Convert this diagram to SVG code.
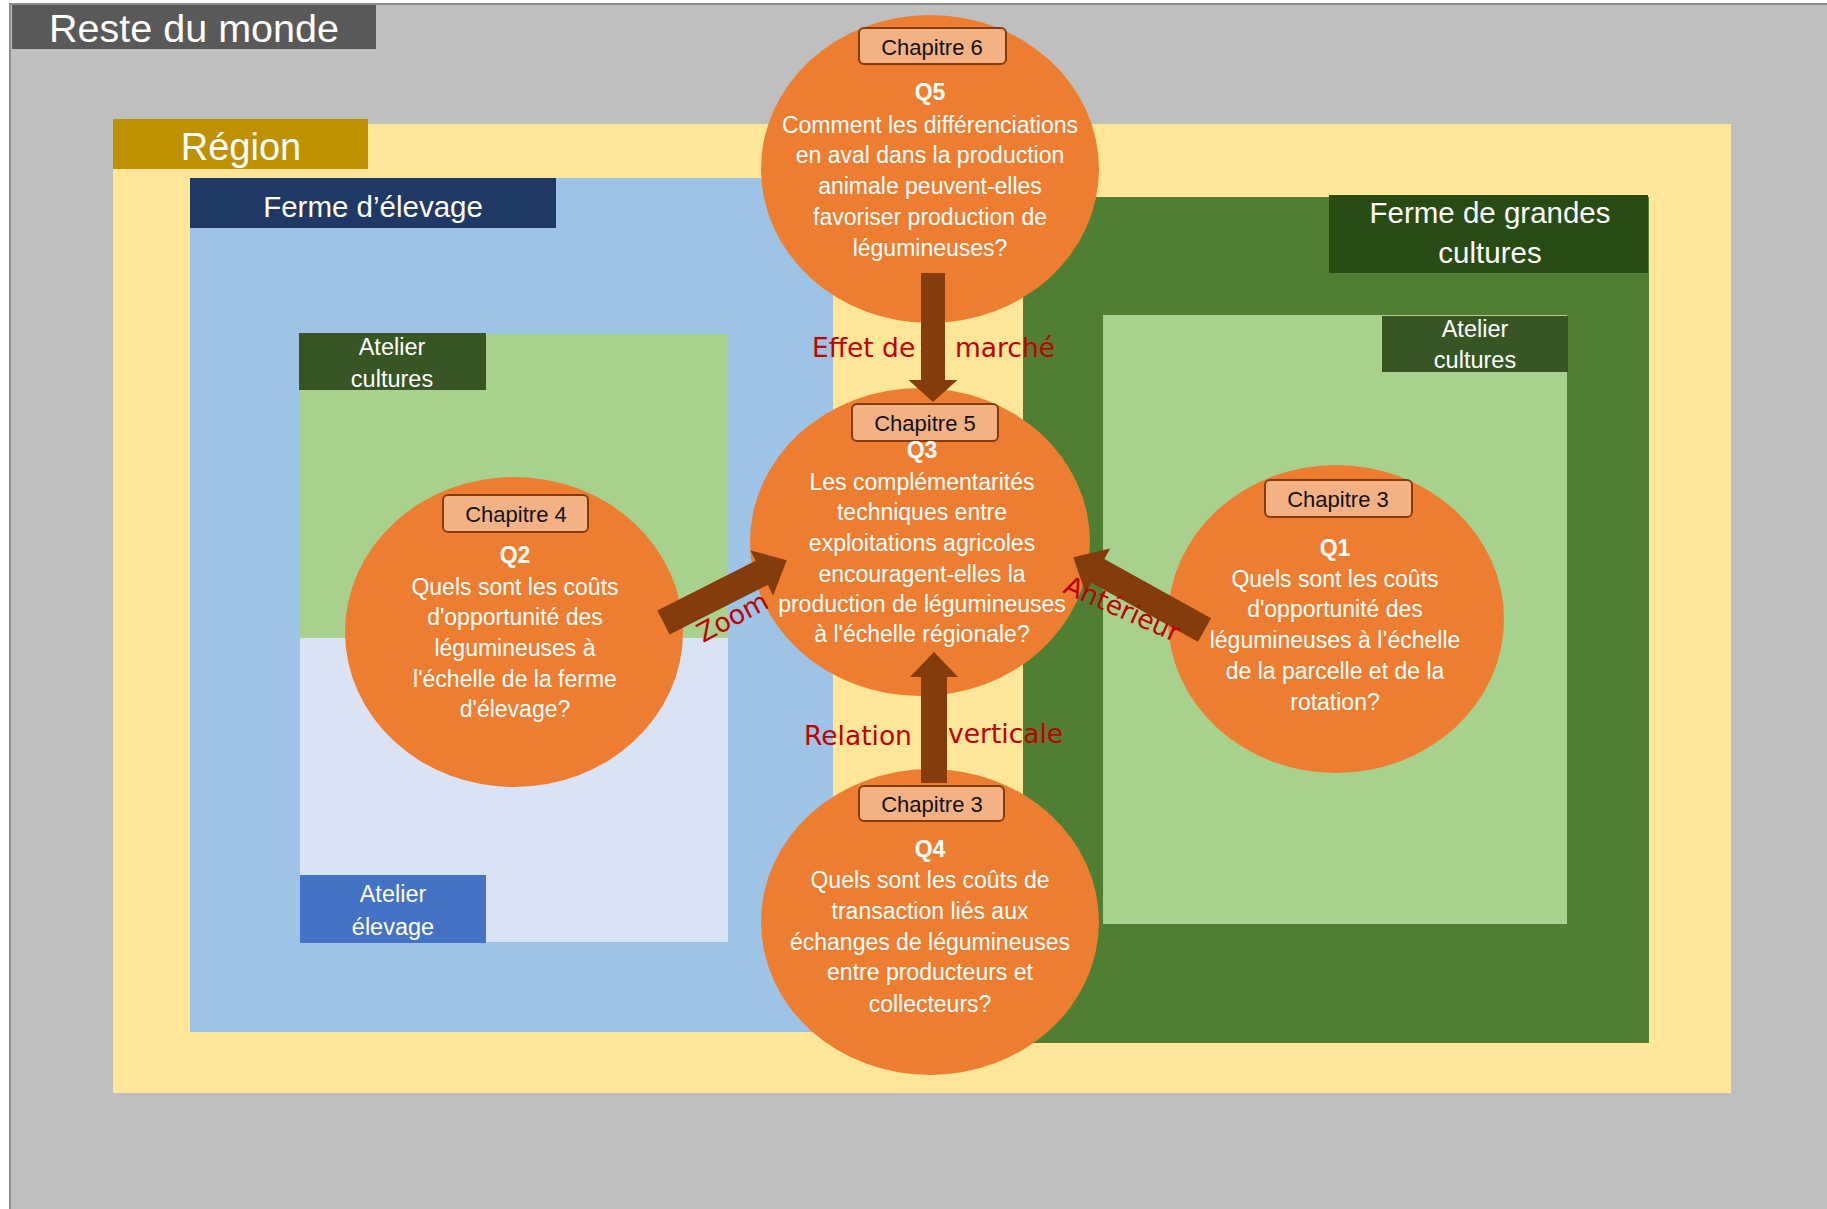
<svg xmlns="http://www.w3.org/2000/svg" width="1827" height="1209" viewBox="0 0 1827 1209">
<style>
.hdr{font-family:"Liberation Sans",Arial,sans-serif;fill:#fff;text-anchor:middle}
.q{font-family:"Liberation Sans",Arial,sans-serif;font-size:23px;fill:#fff;text-anchor:middle}
.qb{font-weight:bold}
.chap{fill:#F4B183;stroke:#843C0C;stroke-width:2}
.chapt{font-family:"Liberation Sans",Arial,sans-serif;font-size:22px;fill:#111;text-anchor:middle}
.circ{fill:#ED7D31}
.arr{fill:#843C0C}
.red{font-family:"DejaVu Sans",Verdana,sans-serif;font-size:26.5px;fill:#C00000}
</style>
<rect x="0" y="0" width="1827" height="1209" fill="#ffffff"/>
<g id="reste-du-monde">
<rect x="10" y="4" width="1830" height="1210" fill="#BFBFBF" stroke="#8C8C8C" stroke-width="2"/>
<rect x="12" y="5" width="364" height="44" fill="#595959"/>
<text class="hdr" x="194" y="42" font-size="39.5">Reste du monde</text>
</g>
<g id="region">
<rect x="113" y="124" width="1618" height="969" fill="#FFE699"/>
<rect x="113" y="119" width="255" height="50" fill="#BF9000"/>
<text class="hdr" x="241" y="160" font-size="38">Région</text>
</g>
<g id="ferme-elevage">
<rect x="190" y="178" width="643" height="854" fill="#9DC3E6"/>
<rect x="300" y="334" width="428" height="304" fill="#A9D18E"/>
<rect x="300" y="638" width="428" height="304" fill="#DAE3F3"/>
<rect x="190" y="178" width="366" height="50" fill="#1F3864"/>
<text class="hdr" x="373" y="217" font-size="29.5">Ferme d’élevage</text>
</g>
<g id="atelier-cultures-gauche">
<rect x="299" y="333" width="187" height="57" fill="#375623"/>
<text class="hdr" x="392" y="355" font-size="23.5">Atelier</text>
<text class="hdr" x="392" y="387" font-size="23.5">cultures</text>
</g>
<g id="atelier-elevage">
<rect x="300" y="875" width="186" height="68" fill="#4472C4"/>
<text class="hdr" x="393" y="902" font-size="23.5">Atelier</text>
<text class="hdr" x="393" y="935" font-size="23.5">élevage</text>
</g>
<g id="ferme-grandes-cultures">
<rect x="1023" y="197" width="626" height="846" fill="#507E32"/>
<rect x="1103" y="315" width="464" height="609" fill="#A9D18E"/>
<rect x="1329" y="195" width="319" height="78" fill="#284B13"/>
<text class="hdr" x="1490" y="223" font-size="29.5">Ferme de grandes</text>
<text class="hdr" x="1490" y="263" font-size="29.5">cultures</text>
</g>
<g id="atelier-cultures-droite">
<rect x="1382" y="316" width="186" height="56" fill="#375623"/>
<text class="hdr" x="1475" y="337" font-size="23.5">Atelier</text>
<text class="hdr" x="1475" y="368" font-size="23.5">cultures</text>
</g>
<g id="Q5">
<ellipse class="circ" cx="930" cy="169" rx="169" ry="154"/>
<rect class="chap" x="859" y="28" width="147" height="36" rx="5"/>
<text class="chapt" x="932" y="55">Chapitre 6</text>
<text class="q qb" x="930" y="100">Q5</text>
<text class="q" x="930" y="133">Comment les différenciations</text>
<text class="q" x="930" y="163">en aval dans la production</text>
<text class="q" x="930" y="194">animale peuvent-elles</text>
<text class="q" x="930" y="225">favoriser production de</text>
<text class="q" x="930" y="256">légumineuses?</text>
</g>
<g id="Q3">
<ellipse class="circ" cx="920" cy="542" rx="170" ry="154"/>
<rect class="chap" x="852" y="404" width="146" height="37" rx="5"/>
<text class="chapt" x="925" y="431">Chapitre 5</text>
<text class="q qb" x="922" y="458">Q3</text>
<text class="q" x="922" y="490">Les complémentarités</text>
<text class="q" x="922" y="520">techniques entre</text>
<text class="q" x="922" y="551">exploitations agricoles</text>
<text class="q" x="922" y="582">encouragent-elles la</text>
<text class="q" x="922" y="612">production de légumineuses</text>
<text class="q" x="922" y="642">à l'échelle régionale?</text>
</g>
<g id="Q2">
<ellipse class="circ" cx="514" cy="632" rx="169" ry="155"/>
<rect class="chap" x="443" y="495" width="145" height="37" rx="5"/>
<text class="chapt" x="516" y="522">Chapitre 4</text>
<text class="q qb" x="515" y="563">Q2</text>
<text class="q" x="515" y="595">Quels sont les coûts</text>
<text class="q" x="515" y="625">d'opportunité des</text>
<text class="q" x="515" y="656">légumineuses à</text>
<text class="q" x="515" y="687">l'échelle de la ferme</text>
<text class="q" x="515" y="717">d'élevage?</text>
</g>
<g id="Q1">
<ellipse class="circ" cx="1336" cy="619" rx="168" ry="154"/>
<rect class="chap" x="1265" y="480" width="147" height="37" rx="5"/>
<text class="chapt" x="1338" y="507">Chapitre 3</text>
<text class="q qb" x="1335" y="556">Q1</text>
<text class="q" x="1335" y="587">Quels sont les coûts</text>
<text class="q" x="1335" y="617">d'opportunité des</text>
<text class="q" x="1335" y="648">légumineuses à l’échelle</text>
<text class="q" x="1335" y="679">de la parcelle et de la</text>
<text class="q" x="1335" y="710">rotation?</text>
</g>
<g id="Q4">
<ellipse class="circ" cx="930" cy="922" rx="169" ry="153"/>
<text class="q qb" x="930" y="857">Q4</text>
<text class="q" x="930" y="888">Quels sont les coûts de</text>
<text class="q" x="930" y="919">transaction liés aux</text>
<text class="q" x="930" y="950">échanges de légumineuses</text>
<text class="q" x="930" y="980">entre producteurs et</text>
<text class="q" x="930" y="1012">collecteurs?</text>
</g>
<g id="connectors">
<polygon class="arr" transform="translate(933,273) rotate(90)" points="0,-12 107,-12 107,-24.5 129,0 107,24.5 107,12 0,12"/>
<polygon class="arr" transform="translate(934,783) rotate(-90)" points="0,-13 106,-13 106,-24 131,0 106,24 106,13 0,13"/>
<polygon class="arr" transform="translate(663.5,622.5) rotate(-26.8)" points="0,-13.5 110,-13.5 110,-25.5 138,0 110,25.5 110,13.5 0,13.5"/>
<polygon class="arr" transform="translate(1204.5,630) rotate(-151)" points="0,-13.5 122,-13.5 122,-25.5 150,0 122,25.5 122,13.5 0,13.5"/>
<text class="red" x="812" y="357">Effet de</text>
<text class="red" x="955" y="357">marché</text>
<text class="red" x="804" y="745">Relation</text>
<text class="red" x="948" y="743">verticale</text>
<text class="red" transform="translate(703,643) rotate(-28)">Zoom</text>
<text class="red" transform="translate(1062,592) rotate(24)">Antérieur</text>
</g>
<g id="Q4-chapitre">
<rect class="chap" x="859" y="786" width="145" height="35" rx="5"/>
<text class="chapt" x="932" y="812">Chapitre 3</text>
</g>
</svg>
